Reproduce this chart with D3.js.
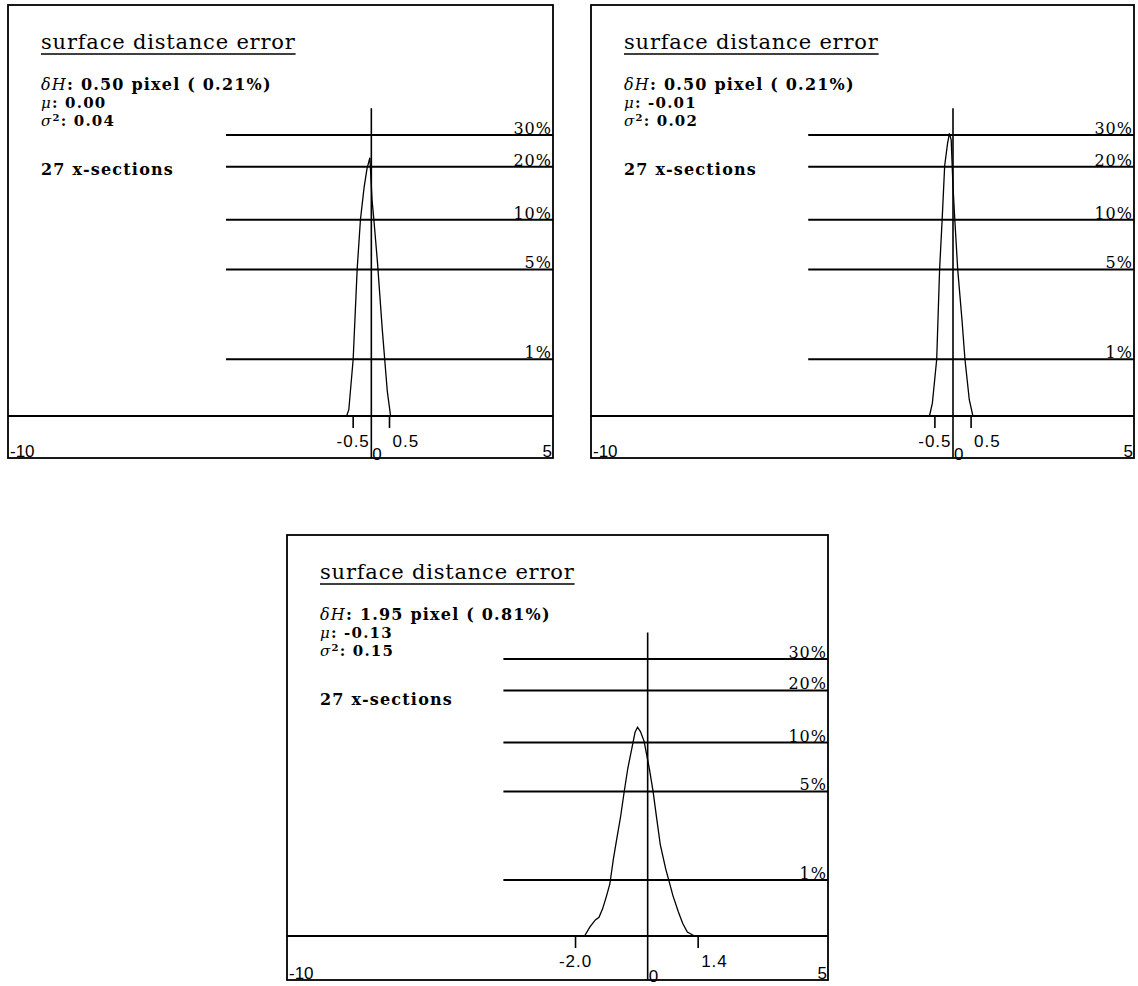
<!DOCTYPE html>
<html>
<head>
<meta charset="utf-8">
<script src="https://cdn.jsdelivr.net/npm/d3@7"></script>
<style>
  body { margin: 0; background: #fff; }
  svg { display: block; }
</style>
</head>
<body>
<svg width="1138" height="986"></svg>
<script>
// values
var xDomain = [-10, 5];
var pctLevels = [30, 20, 10, 5, 1];
var pctLabels = ["30%", "20%", "10%", "5%", "1%"];
var titles = ["surface distance error", "surface distance error", "surface distance error"];
var deltaH = ["0.50 pixel ( 0.21%)", "0.50 pixel ( 0.21%)", "1.95 pixel ( 0.81%)"];
var mu = ["0.00", "-0.01", "-0.13"];
var sigma2 = ["0.04", "0.02", "0.15"];
var sections = ["27 x-sections", "27 x-sections", "27 x-sections"];
var tickLo = [-0.5, -0.5, -2.0];
var tickHi = [0.5, 0.5, 1.4];
var tickLoLabel = ["-0.5", "-0.5", "-2.0"];
var tickHiLabel = ["0.5", "0.5", "1.4"];

// error distribution (x in pixel, y in percent of samples)
var curve1X = [-0.68, -0.62, -0.5, -0.39, -0.3, -0.2, -0.12, -0.04, 0.02, 0.07, 0.17, 0.3, 0.44, 0.53];
var curve1P = [0, 0.08, 1.0, 5.0, 10, 15.3, 19.5, 22.5, 13, 10, 5.5, 1.9, 0.35, 0];
var curve2X = [-0.65, -0.57, -0.45, -0.37, -0.3, -0.23, -0.15, -0.1, -0.05, 0, 0.05, 0.13, 0.25, 0.33, 0.45, 0.55];
var curve2P = [0, 0.17, 1.0, 5.0, 10, 20.3, 27, 30.6, 28.2, 15.5, 10, 5.0, 2.2, 1.0, 0.22, 0];
var curve3X = [-1.75, -1.6, -1.45, -1.35, -1.25, -1.15, -1.05, -0.95, -0.85, -0.75, -0.65, -0.55, -0.45, -0.35, -0.28, -0.2, -0.1, -0.02, 0.05, 0.15, 0.25, 0.35, 0.5, 0.6, 0.7, 0.85, 0.97, 1.1, 1.3];
var curve3P = [0, 0.12, 0.22, 0.26, 0.4, 0.62, 0.9, 1.6, 2.4, 3.4, 5.0, 7.0, 9.0, 11.5, 12.3, 11.6, 10.2, 8.3, 6.9, 5.0, 3.3, 2.1, 1.3, 0.95, 0.65, 0.35, 0.17, 0.05, 0];

var curvesX = [curve1X, curve2X, curve3X];
var curvesP = [curve1P, curve2P, curve3P];

// frame placement of each plot on the page
var frames = [
  {x: 8, y: 5, w: 545, h: 453, base: 411, span: 281},
  {x: 591, y: 5, w: 543, h: 453, base: 411, span: 281},
  {x: 287, y: 535, w: 541, h: 445, base: 401, span: 277}
];

var serif = "'DejaVu Serif', 'Liberation Serif', serif";
var sans = "'Liberation Sans', Arial, sans-serif";

var svg = d3.select("svg");

frames.forEach(function(f, i) {
  var g = svg.append("g").attr("transform", "translate(" + f.x + "," + f.y + ")");

  var x = d3.scaleLinear().domain(xDomain).range([0, f.w]);
  // log(1 + p) vertical scale
  var y = d3.scaleSymlog().constant(1).domain([0, 30]).range([f.base, f.base - f.span]);

  g.append("rect")
    .attr("width", f.w)
    .attr("height", f.h)
    .attr("fill", "none")
    .attr("stroke", "#000")
    .attr("stroke-width", 1.8);

  // percentage reference lines
  g.selectAll(".pct")
    .data(pctLevels)
    .enter().append("line")
    .attr("class", "pct")
    .attr("x1", x(-4))
    .attr("x2", f.w)
    .attr("y1", function(d) { return y(d); })
    .attr("y2", function(d) { return y(d); })
    .attr("stroke", "#000")
    .attr("stroke-width", 2);

  g.selectAll(".pctlabel")
    .data(pctLevels)
    .enter().append("text")
    .attr("class", "pctlabel")
    .attr("x", f.w - 1)
    .attr("y", function(d) { return y(d) - 1; })
    .attr("text-anchor", "end")
    .style("font-family", serif)
    .style("font-size", "16px")
    .style("letter-spacing", "1px")
    .text(function(d, j) { return pctLabels[j]; });

  // x axis line
  g.append("line")
    .attr("x1", 0).attr("x2", f.w)
    .attr("y1", f.base).attr("y2", f.base)
    .attr("stroke", "#000")
    .attr("stroke-width", 2);

  // zero line
  g.append("line")
    .attr("x1", x(0)).attr("x2", x(0))
    .attr("y1", y(42)).attr("y2", f.h)
    .attr("stroke", "#000")
    .attr("stroke-width", 1.6);

  // spread ticks
  g.selectAll(".tick")
    .data([tickLo[i], tickHi[i]])
    .enter().append("line")
    .attr("class", "tick")
    .attr("x1", function(d) { return x(d); })
    .attr("x2", function(d) { return x(d); })
    .attr("y1", f.base)
    .attr("y2", f.base + 12)
    .attr("stroke", "#000")
    .attr("stroke-width", 1.6);

  g.append("text")
    .attr("x", x(tickLo[i]))
    .attr("y", f.base + 31)
    .attr("text-anchor", "middle")
    .style("font-family", sans)
    .style("font-size", "17px")
    .style("letter-spacing", "1px")
    .text(tickLoLabel[i]);

  g.append("text")
    .attr("x", x(tickHi[i]) + 3)
    .attr("y", f.base + 31)
    .style("font-family", sans)
    .style("font-size", "17px")
    .style("letter-spacing", "1px")
    .text(tickHiLabel[i]);

  g.append("text")
    .attr("x", x(0) + 1)
    .attr("y", f.h + 2)
    .style("font-family", sans)
    .style("font-size", "17px")
    .text("0");

  g.append("text")
    .attr("x", x(xDomain[0]) + 2)
    .attr("y", f.h - 1)
    .style("font-family", sans)
    .style("font-size", "17px")
    .text(xDomain[0]);

  g.append("text")
    .attr("x", x(xDomain[1]) - 1)
    .attr("y", f.h - 1)
    .attr("text-anchor", "end")
    .style("font-family", sans)
    .style("font-size", "17px")
    .text(xDomain[1]);

  // distribution curve
  var line = d3.line()
    .x(function(d) { return x(d[0]); })
    .y(function(d) { return y(d[1]); });

  g.append("path")
    .datum(d3.zip(curvesX[i], curvesP[i]))
    .attr("d", line)
    .attr("fill", "none")
    .attr("stroke", "#000")
    .attr("stroke-width", 1.3);

  // text block
  var tx = 33;
  var title = g.append("text")
    .attr("x", tx)
    .attr("y", 44)
    .style("font-family", serif)
    .style("font-size", "21px")
    .style("letter-spacing", "0.8px")
    .text(titles[i]);
  var tw = title.node().getComputedTextLength();
  g.append("line")
    .attr("x1", tx).attr("x2", tx + tw)
    .attr("y1", 49).attr("y2", 49)
    .attr("stroke", "#000")
    .attr("stroke-width", 1.6);

  var t1 = g.append("text")
    .attr("x", tx)
    .attr("y", 85)
    .style("font-family", serif)
    .style("font-size", "16px")
    .style("font-weight", "bold")
    .style("letter-spacing", "1.2px");
  t1.append("tspan").style("font-style", "italic").style("font-weight", "normal").text("\u03b4H");
  t1.append("tspan").text(": " + deltaH[i]);

  var t2 = g.append("text")
    .attr("x", tx)
    .attr("y", 103)
    .style("font-family", serif)
    .style("font-size", "15px")
    .style("font-weight", "bold")
    .style("letter-spacing", "1.2px");
  t2.append("tspan").style("font-style", "italic").style("font-weight", "normal").text("\u03bc");
  t2.append("tspan").text(":  " + mu[i]);

  var t3 = g.append("text")
    .attr("x", tx)
    .attr("y", 121)
    .style("font-family", serif)
    .style("font-size", "15px")
    .style("font-weight", "bold")
    .style("letter-spacing", "1.2px");
  t3.append("tspan").style("font-style", "italic").style("font-weight", "normal").text("\u03c3");
  t3.append("tspan").attr("dy", -5).style("font-size", "10px").text("2");
  t3.append("tspan").attr("dy", 5).text(": " + sigma2[i]);

  g.append("text")
    .attr("x", tx)
    .attr("y", 170)
    .style("font-family", serif)
    .style("font-size", "16px")
    .style("font-weight", "bold")
    .style("letter-spacing", "1.2px")
    .text(sections[i]);
});
</script>
</body>
</html>
